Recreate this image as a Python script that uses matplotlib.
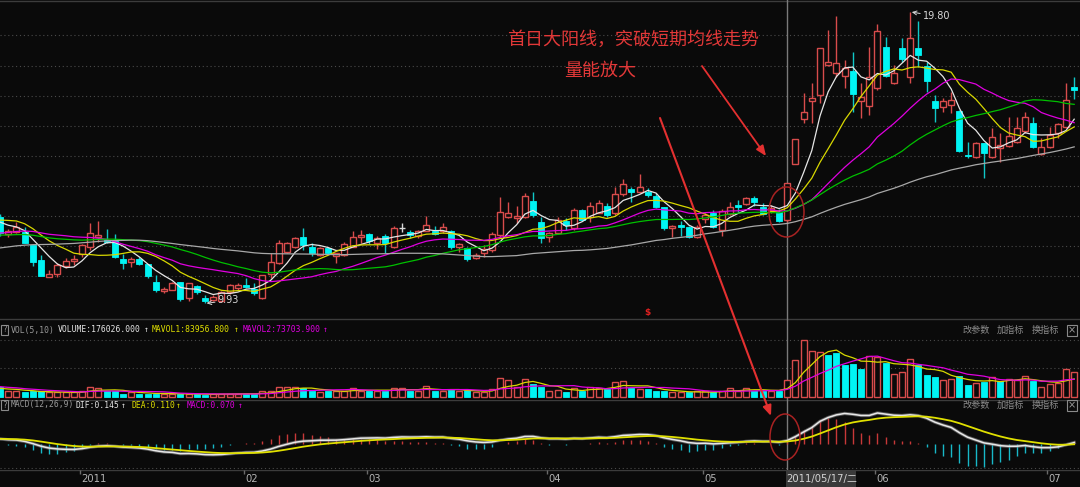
import numpy as np
import pandas as pd
import matplotlib
matplotlib.use("Agg")
import matplotlib.pyplot as plt
from matplotlib.patches import Rectangle, Ellipse, FancyArrowPatch
import matplotlib.transforms as mtrans

# ---------------- data ----------------
opens = [12.86,12.28,12.34,12.34,11.90,11.40,10.82,10.92,11.19,11.36,
         11.60,11.84,12.17,12.07,12.04,11.43,11.33,11.43,11.26,10.65,
         10.34,10.38,10.65,10.11,10.51,10.10,10.04,10.01,10.31,10.45,
         10.55,10.41,10.11,10.92,11.29,11.67,11.84,12.17,11.84,11.57,
         11.80,11.53,11.57,11.84,12.17,12.28,11.97,12.21,11.84,12.48,
         12.34,12.21,12.38,12.38,12.38,12.38,11.84,11.80,11.46,11.63,
         11.74,12.24,12.85,12.82,12.85,13.40,12.68,12.17,12.31,12.72,
         12.48,13.09,12.85,12.99,13.23,12.99,13.63,13.80,13.70,13.70,
         13.57,13.19,12.48,12.58,12.51,12.17,12.79,12.99,12.41,12.96,
         13.26,13.29,13.50,13.19,13.09,13.02,12.75,14.65,16.18,16.79,
         16.99,18.01,17.74,17.63,17.80,16.79,16.62,17.23,18.62,17.40,
         18.58,17.60,18.58,17.97,16.79,16.58,16.65,16.45,14.95,14.89,
         15.36,14.89,15.19,15.26,15.40,15.76,16.04,14.99,15.23,15.70,
         15.90,17.26]
highs = [12.95,12.45,12.68,12.51,11.90,11.57,11.06,11.29,11.46,11.57,
         11.94,12.65,12.72,12.45,12.28,11.60,11.50,11.50,11.27,10.89,
         10.48,10.64,10.66,10.63,10.55,10.21,10.21,10.34,10.58,10.62,
         10.79,10.62,10.90,11.63,12.07,12.01,12.17,12.48,11.97,11.84,
         11.84,11.64,12.01,12.38,12.41,12.31,12.21,12.28,12.55,12.65,
         12.41,12.41,12.89,12.55,12.65,12.41,11.97,11.84,11.63,11.90,
         12.34,13.53,13.36,13.23,13.67,13.70,12.85,12.34,12.85,12.82,
         13.16,13.12,13.36,13.43,13.33,13.87,14.14,13.87,14.31,13.84,
         13.67,13.20,12.58,12.72,12.55,12.58,12.99,13.09,13.12,13.36,
         13.43,13.53,13.57,13.33,13.26,13.12,14.02,15.51,17.06,17.40,
         18.59,19.19,19.67,18.18,18.45,17.40,18.62,19.40,18.96,18.01,
         18.92,19.80,19.50,18.11,16.99,16.89,17.09,16.48,15.40,15.40,
         15.37,15.87,15.70,16.24,16.24,16.41,16.24,15.53,15.90,16.04,
         17.40,17.60]
lows = [12.21,12.17,12.31,11.97,11.19,10.85,10.82,10.82,11.12,11.23,
        11.50,11.74,12.01,11.97,11.46,11.09,11.16,11.23,10.79,10.31,
        10.28,10.37,10.01,10.00,10.24,9.93,10.01,9.97,10.24,10.38,
        10.45,10.21,10.09,10.79,11.26,11.63,11.80,11.74,11.53,11.53,
        11.60,11.29,11.53,11.82,11.97,11.94,11.77,11.63,11.80,12.34,
        12.14,12.14,12.37,12.24,12.31,11.77,11.67,11.36,11.43,11.50,
        11.67,12.17,12.82,12.65,12.82,12.85,11.97,12.01,12.28,12.41,
        12.41,12.72,12.68,12.98,12.85,12.92,13.57,13.36,13.67,13.53,
        13.16,12.41,12.17,12.21,12.14,12.14,12.65,12.48,12.21,12.92,
        13.02,13.26,13.23,12.92,12.99,12.68,12.68,14.64,16.04,16.04,
        16.72,17.97,17.60,17.23,16.41,16.21,16.31,17.16,17.60,17.36,
        18.11,17.40,17.94,17.09,16.07,16.41,16.38,15.06,14.85,14.85,
        14.18,14.85,14.72,15.23,15.36,15.70,15.19,14.95,15.19,15.53,
        15.87,16.85]
closes = [12.30,12.38,12.51,11.97,11.33,10.85,10.92,11.23,11.36,11.43,
          11.90,12.31,12.24,12.01,11.50,11.29,11.43,11.26,10.85,10.38,
          10.41,10.62,10.07,10.62,10.31,9.99,10.14,10.31,10.55,10.55,
          10.48,10.28,10.89,11.33,11.97,11.97,12.14,11.90,11.63,11.80,
          11.63,11.63,11.94,12.17,12.24,12.04,12.14,11.97,12.48,12.48,
          12.24,12.38,12.58,12.28,12.51,11.84,11.94,11.43,11.57,11.77,
          12.28,13.02,12.99,12.89,13.57,12.92,12.14,12.31,12.75,12.58,
          13.09,12.75,13.23,13.33,12.92,13.63,13.97,13.70,13.87,13.60,
          13.19,12.48,12.55,12.51,12.17,12.51,12.92,12.51,13.06,13.19,
          13.19,13.50,13.36,12.96,13.16,12.72,14.01,15.50,16.41,16.89,
          18.58,18.11,18.07,17.90,17.02,16.92,17.60,19.16,17.63,17.74,
          18.21,18.92,18.35,17.46,16.55,16.79,16.82,15.09,14.92,15.36,
          15.02,15.57,15.29,15.60,15.87,16.24,15.23,15.23,15.63,16.01,
          16.82,17.16]
volumes = [96000,53000,61000,43000,53000,53000,43000,43000,43000,43000,
           53000,103000,86000,53000,53000,32000,43000,32000,32000,25000,
           32000,32000,25000,25000,25000,18000,25000,32000,32000,32000,
           25000,25000,53000,53000,103000,96000,103000,86000,53000,43000,
           61000,53000,61000,89000,61000,61000,61000,61000,89000,89000,
           61000,61000,114000,61000,61000,68000,61000,68000,43000,43000,
           78000,196000,168000,103000,185000,132000,96000,53000,68000,43000,
           89000,61000,103000,86000,78000,150000,160000,89000,78000,78000,
           61000,61000,43000,43000,43000,53000,53000,43000,61000,86000,
           61000,86000,61000,61000,61000,53000,176026,374000,588000,471000,
           460000,435000,453000,328000,335000,285000,424000,410000,353000,232000,
           257000,389000,328000,221000,203000,168000,182000,210000,125000,139000,
           150000,203000,157000,185000,168000,210000,160000,96000,132000,143000,
           285000,257000]
# colour of each volume bar as shown (1 = red hollow, 0 = cyan filled)
vol_up = [0,1,1,0,0,0,1,1,1,1, 1,1,1,0,0,0,1,0,0,0, 1,1,0,1,0,0,1,1,1,1,
          0,0,1,1,1,1,1,0,0,1, 0,1,1,1,1,0,1,0,1,1, 0,1,1,0,1,0,1,0,1,1,
          1,1,1,1,1,0,0,1,1,0, 1,0,1,1,0,1,1,0,1,0, 0,0,1,1,0,1,1,0,1,1,
          1,1,0,0,1,0,1,1,1,1, 1,0,0,0,0,0,1,1,0,1, 1,1,0,0,0,1,1,0,0,1,
          0,1,0,1,1,1,0,1,1,1, 1,1]
# sessions before the visible window (implied by the moving-average lines)
prev_close = [10.3,10.4,10.5,10.4,10.6,10.5,10.7,10.6,10.8,10.7,10.9,10.8,10.9,10.8,11.0,10.9,
              11.4,11.8,12.1,12.4,12.6,12.3,12.5,12.2,12.0,12.3,12.1,12.0,12.2,12.4,
              12.3,12.1,11.9,12.0,12.2,12.3,12.1,11.9,12.0,12.2,
              12.0,11.8,11.7,11.6,11.8,11.9,11.7,11.9,12.1,12.2,
              12.5,12.7,12.9,13.0,13.0,
              12.9,12.8,12.6,12.8]
prev_volume = [125000,110000,130000,115000,120000,90000,80000,85000,79000]

ma_periods = [5, 10, 20, 30, 60]
ma_colors = ['#e6e6e6', '#d8d800', '#e000e0', '#00c000', '#a8a8a8']
month_pos = [10, 30, 45, 67, 86, 107, 128]
month_labels = ['2011', '02', '03', '04', '05', '06', '07']
cursor_idx = 96
cursor_label = '2011/05/17/二'
vol_header = [('VOL(5,10)', '#9a9a9a'), ('VOLUME:176026.000', '#e6e6e6'), ('↑', '#e6e6e6'),
              ('MAVOL1:83956.800', '#e0e000'), ('↑', '#e0e000'),
              ('MAVOL2:73703.900', '#e000e0'), ('↑', '#e000e0')]
macd_header = [('MACD(12,26,9)', '#9a9a9a'), ('DIF:0.145', '#e6e6e6'), ('↑', '#e6e6e6'),
               ('DEA:0.110', '#e0e000'), ('↑', '#e0e000'),
               ('MACD:0.070', '#e000e0'), ('↑', '#e000e0')]
note1 = '首日大阳线，突破短期均线走势'
note2 = '量能放大'

# ---------------- computations ----------------
N = len(closes)
idx = np.arange(N)
allc = pd.Series(prev_close + closes, dtype=float)
mas = [allc.rolling(p).mean().values[-N:] for p in ma_periods]
ema12 = allc.ewm(span=12, adjust=False).mean()
ema26 = allc.ewm(span=26, adjust=False).mean()
dif_s = ema12 - ema26
dea_s = dif_s.ewm(span=9, adjust=False).mean()
dif = dif_s.values[-N:]
dea = dea_s.values[-N:]
hist = 2 * (dif - dea)
allv = pd.Series(prev_volume + volumes, dtype=float)
mavol1 = allv.rolling(5).mean().values[-N:]
mavol2 = allv.rolling(10).mean().values[-N:]

# ---------------- style ----------------
BG = '#0a0a0a'
RED = '#d84c4c'
CYAN = '#00f4f4'
CYANW = '#10c8c8'
GRID = '#4a4a4a'
BORDER = '#3c3c3c'
W, H = 1080, 487
SP = 8.2  # pixels per session

fig = plt.figure(figsize=(W / 100, H / 100), dpi=100, facecolor=BG)

def rect(top, bottom):
    return [0, (H - bottom) / H, 1, (bottom - top) / H]

ax = fig.add_axes(rect(0, 318))
axv = fig.add_axes(rect(318, 400))
axm = fig.add_axes(rect(400, 470))
axd = fig.add_axes(rect(470, 487))
for a in (ax, axv, axm, axd):
    a.set_facecolor(BG)
    a.set_xlim(0, W / SP)
    a.set_xticks([]); a.set_yticks([])
    for s in a.spines.values():
        s.set_visible(False)

def dotted(a, fracs):
    for f in fracs:
        a.plot([0, 1], [f, f], transform=a.transAxes, color=GRID, lw=0.8,
               ls=(0, (1, 2.5)), zorder=0)

# ---------------- main price panel ----------------
ax.set_ylim(9.43, 20.21)
dotted(ax, [1 - y / 318 for y in (35, 66, 96, 126, 156, 186, 216, 246, 276)])
ax.plot([0, 1], [0.997, 0.997], transform=ax.transAxes, color=BORDER, lw=1)
bw = 0.72
for i in range(N):
    o, h, l, c = opens[i], highs[i], lows[i], closes[i]
    if c > o:
        ax.vlines(i, l, o, color=RED, lw=1, zorder=3)
        ax.vlines(i, c, h, color=RED, lw=1, zorder=3)
        ax.add_patch(Rectangle((i - bw / 2, o), bw, c - o, facecolor=BG,
                               edgecolor=RED, lw=1, zorder=3))
    elif c < o:
        ax.vlines(i, l, h, color=CYANW, lw=1, zorder=3)
        ax.add_patch(Rectangle((i - bw / 2, c), bw, o - c, facecolor=CYAN,
                               edgecolor=CYAN, lw=0.6, zorder=3))
    else:
        ax.vlines(i, l, h, color='#d8d8d8', lw=1, zorder=3)
        ax.hlines(o, i - bw / 2, i + bw / 2, color='#d8d8d8', lw=1, zorder=3)
for m, col in zip(mas, ma_colors):
    ax.plot(idx, m, color=col, lw=0.9, zorder=4)

imax = int(np.argmax(highs)); imin = int(np.argmin(lows))
ax.annotate(f'{highs[imax]:.2f}', xy=(imax + 0.2, highs[imax]), xytext=(8, -3),
            textcoords='offset points', color='#d8d8d8', fontsize=7,
            family='DejaVu Sans', va='center', ha='left',
            arrowprops=dict(arrowstyle='->', color='#d8d8d8', lw=0.7,
                            shrinkA=0, shrinkB=0), zorder=6)
ax.annotate(f'{lows[imin]:.2f}', xy=(imin + 0.2, lows[imin]), xytext=(8, 2),
            textcoords='offset points', color='#d8d8d8', fontsize=7,
            family='DejaVu Sans', va='center', ha='left',
            arrowprops=dict(arrowstyle='->', color='#d8d8d8', lw=0.7,
                            shrinkA=0, shrinkB=0), zorder=6)
ax.text(79, 0.016, '$', transform=mtrans.blended_transform_factory(ax.transData, ax.transAxes),
        color='#e02020', fontsize=6.5, ha='center', va='center', fontweight='bold')
ax.axvline(cursor_idx, color='#7a7a7a', lw=1, zorder=2)

# ---------------- volume panel ----------------
vscale = 10354.0
axv.set_ylim(-3.4 * vscale, (400 - 318 - 3.4) * vscale)
axv.plot([0, 1], [0.985, 0.985], transform=axv.transAxes, color=BORDER, lw=1)
dotted(axv, [(400 - 339.8) / 82, (400 - 367.7) / 82])
for i in range(N):
    v = volumes[i]
    if vol_up[i]:
        axv.add_patch(Rectangle((i - bw / 2, 0), bw, v, facecolor=BG,
                                edgecolor=RED, lw=1, zorder=3))
    else:
        axv.add_patch(Rectangle((i - bw / 2, 0), bw, v, facecolor=CYAN,
                                edgecolor=CYAN, lw=0.6, zorder=3))
axv.plot(idx, mavol1, color='#d8d800', lw=0.9, zorder=4)
axv.plot(idx, mavol2, color='#e000e0', lw=0.9, zorder=4)
axv.axvline(cursor_idx, color='#7a7a7a', lw=1, zorder=2)

# ---------------- MACD panel ----------------
u = np.nanmax(dif) / 31.0
axm.set_ylim(-26 * u, 44 * u)
axm.plot([0, 1], [0.995, 0.995], transform=axm.transAxes, color=BORDER, lw=1)
dotted(axm, [(470 - 468) / 70])
pos = hist >= 0
axm.vlines(idx[pos], 0, hist[pos], color='#c83838', lw=1, zorder=3)
axm.vlines(idx[~pos], 0, hist[~pos], color='#18b8c8', lw=1, zorder=3)
axm.plot(idx, dif, color='#8a8a8a', lw=2.4, alpha=0.6, zorder=4)
axm.plot(idx, dif, color='#e8e8e8', lw=1.1, zorder=5)
axm.plot(idx, dea, color='#e0e000', lw=1.3, zorder=5)
axm.axvline(cursor_idx, color='#7a7a7a', lw=1, zorder=2)

# ---------------- date axis ----------------
axd.set_ylim(0, 1)
axd.plot([0, 1], [0.98, 0.98], transform=axd.transAxes, color=BORDER, lw=1)
for p, lab in zip(month_pos, month_labels):
    axd.vlines(p - 0.3, 0.75, 1.0, color='#6a6a6a', lw=1)
    axd.text(p - 0.1, 0.45, lab, color='#b4b4b4', fontsize=7.2, ha='left',
             va='center', family='DejaVu Sans')
axd.add_patch(Rectangle((cursor_idx - 0.15, 0.0), 8.6, 0.95, facecolor='#3a3a3a',
                        edgecolor='none', zorder=3))
axd.text(cursor_idx + 4.15, 0.45, cursor_label, color='#d4d4d4', fontsize=7.2,
         ha='center', va='center', family=['DejaVu Sans', 'Noto Sans CJK SC'], zorder=4)

# ---------------- overlay (pixel coordinates) ----------------
ov = fig.add_axes([0, 0, 1, 1])
ov.set_xlim(0, W); ov.set_ylim(H, 0); ov.axis('off'); ov.patch.set_alpha(0)
ov.set_zorder(20)

def header(items, xs, y):
    ov.add_patch(Rectangle((0.5, y - 5), 7.5, 10, facecolor='none', edgecolor='#8a8a8a', lw=0.8))
    ov.text(4.2, y, '?', color='#9a9a9a', fontsize=5.5, ha='center', va='center',
            family='DejaVu Sans Mono')
    for (t, col), x in zip(items, xs):
        ov.text(x, y, t, color=col, fontsize=5.8, ha='left', va='center',
                family='DejaVu Sans Mono')

header(vol_header, [11, 58, 144, 152, 234, 243, 323], 330)
header(macd_header, [11, 76, 121, 131, 176, 187, 238], 405)
for y in (330, 405):
    for t, x in (('改参数', 962), ('加指标', 997), ('换指标', 1032)):
        ov.text(x, y, t, color='#8c8c8c', fontsize=6.6, ha='left', va='center',
                family='Noto Sans CJK SC')
    ov.add_patch(Rectangle((1067, y - 5.5), 10, 11, facecolor='none', edgecolor='#8a8a8a', lw=0.8))
    ov.text(1072, y, '×', color='#9a9a9a', fontsize=7, ha='center', va='center',
            family='DejaVu Sans')

ov.text(633, 40, note1, color='#e23838', fontsize=13, ha='center', va='center',
        family='Noto Sans CJK SC')
ov.text(600, 71, note2, color='#e23838', fontsize=13, ha='center', va='center',
        family='Noto Sans CJK SC')
ov.add_patch(FancyArrowPatch((702, 66), (766, 156), arrowstyle='-|>,head_length=6,head_width=2.5',
                             color='#e43030', lw=1.3, shrinkA=0, shrinkB=0))
ov.add_patch(FancyArrowPatch((660, 118), (771, 416), arrowstyle='-|>,head_length=6,head_width=2.5',
                             color='#e43030', lw=1.5, shrinkA=0, shrinkB=0))
ov.add_patch(Ellipse((786.5, 212), 35, 50, facecolor='none', edgecolor='#a82222', lw=1.1))
ov.add_patch(Ellipse((785, 437), 30, 46, facecolor='none', edgecolor='#a82222', lw=1.1))

fig.savefig('out.png', dpi=100, facecolor=BG)
